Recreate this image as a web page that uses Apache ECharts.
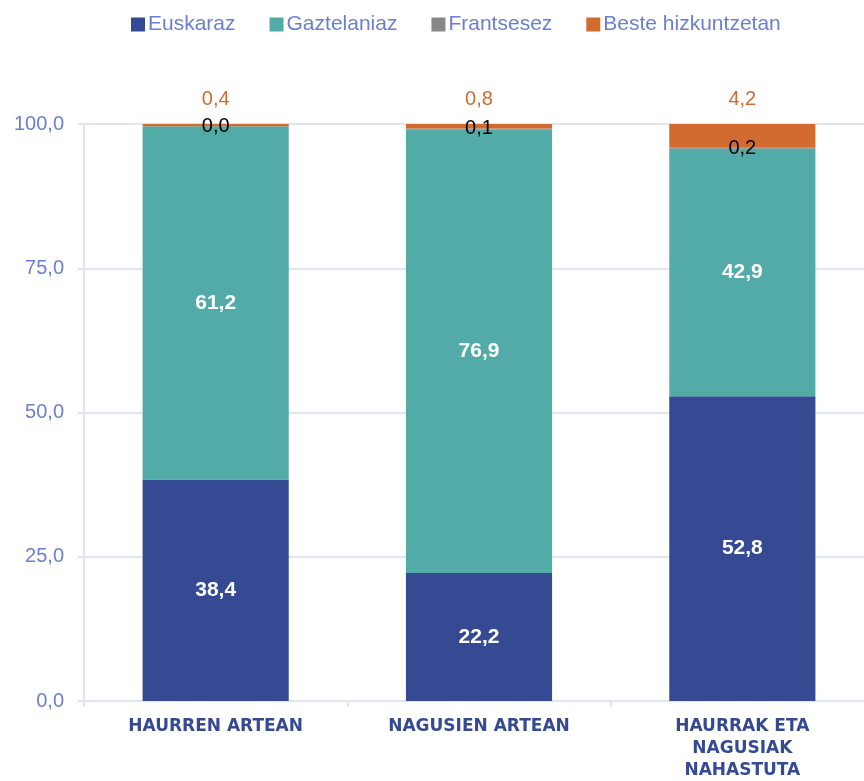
<!DOCTYPE html>
<html>
<head>
<meta charset="utf-8">
<script src="https://cdn.jsdelivr.net/npm/echarts@6/dist/echarts.min.js"></script>
<style>html,body{margin:0;padding:0;background:#fff}#c{width:864px;height:781px}</style>
</head>
<body>
<div id="c"></div>
<script>
const categories = ['HAURREN ARTEAN', 'NAGUSIEN ARTEAN', 'HAURRAK ETA\nNAGUSIAK\nNAHASTUTA'];
const seriesNames = ['Euskaraz', 'Gaztelaniaz', 'Frantsesez', 'Beste hizkuntzetan'];
const euskaraz = [38.4, 22.2, 52.8];
const gaztelaniaz = [61.2, 76.9, 42.9];
const frantsesez = [0.0, 0.1, 0.2];
const beste = [0.4, 0.8, 4.2];
const yTicks = [0, 25, 50, 75, 100];

const colors = ['#354a93', '#53aba8', '#888888', '#d26b2f'];
const fmt = v => Number(v).toFixed(1).replace('.', ',');
const font = 'Liberation Sans, Arial, Helvetica, sans-serif';
const lightLine = '#dfe4f6';

const chart = echarts.init(document.getElementById('c'), null, {renderer: 'canvas'});
const mk = (name, data, color, label) => ({
  name, type: 'bar', stack: 'total', data, barWidth: '55.5%',
  itemStyle: {color},
  label: Object.assign({show: true, formatter: p => fmt(p.value), fontFamily: font, fontSize: 20}, label)
});
chart.setOption({
  animation: false,
  textStyle: {fontFamily: font},
  legend: {
    top: 9, left: 126, itemWidth: 14, itemHeight: 14, itemGap: 34,
    icon: 'rect',
    textStyle: {color: '#6a7fcf', fontSize: 21, fontFamily: font, padding: [0, 0, 0, -2]},
    data: seriesNames
  },
  grid: {left: 84, top: 124, bottom: 80, width: 790, outerBoundsMode: 'none', containLabel: false},
  xAxis: {
    type: 'category', data: categories,
    axisLine: {lineStyle: {color: lightLine, width: 2}},
    axisTick: {show: true, length: 6, lineStyle: {color: lightLine, width: 2}},
    axisLabel: {color: '#354a93', fontWeight: 'bold', fontSize: 17, fontFamily: 'DejaVu Sans, sans-serif', margin: 15, lineHeight: 22, interval: 0}
  },
  yAxis: {
    type: 'value', min: yTicks[0], max: yTicks[yTicks.length - 1], interval: 25,
    axisLine: {show: true, lineStyle: {color: lightLine, width: 2}},
    axisTick: {show: true, length: 6, lineStyle: {color: lightLine, width: 2}},
    splitLine: {lineStyle: {color: lightLine, width: 2}},
    axisLabel: {color: '#6a7fcf', fontSize: 20, fontFamily: font, margin: 20, formatter: v => fmt(v)}
  },
  series: [
    mk(seriesNames[0], euskaraz, colors[0], {position: 'inside', color: '#fff', fontWeight: 'bold', fontSize: 21}),
    mk(seriesNames[1], gaztelaniaz, colors[1], {position: 'inside', color: '#fff', fontWeight: 'bold', fontSize: 21}),
    mk(seriesNames[2], frantsesez, colors[2], {position: 'inside', color: '#000'}),
    mk(seriesNames[3], beste, colors[3], {position: 'top', color: colors[3], distance: 15})
  ]
});
</script>
</body>
</html>
